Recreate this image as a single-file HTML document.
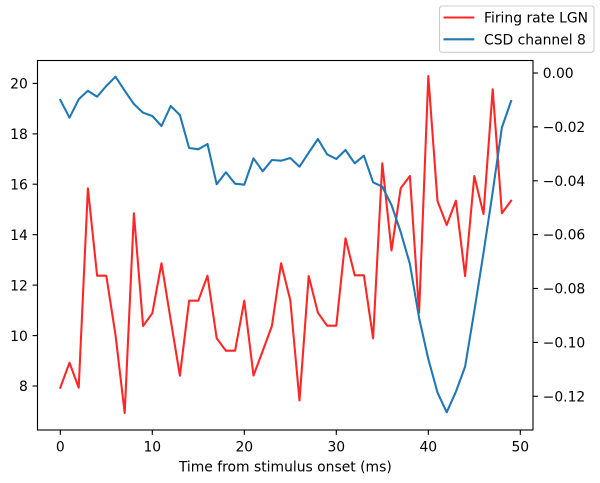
<!DOCTYPE html>
<html>
<head>
<meta charset="utf-8">
<style>
  html,body{margin:0;padding:0;background:#fff;}
  svg{display:block;}
  text{font-family:"DejaVu Sans","Liberation Sans",sans-serif;font-size:13.9px;fill:#000;}
</style>
</head>
<body>
<svg width="600" height="483" viewBox="0 0 600 483" xmlns="http://www.w3.org/2000/svg">
  <rect x="0" y="0" width="600" height="483" fill="#fff"/>

  <!-- Red series: Firing rate LGN -->
  <polyline fill="none" stroke="#ff0000" stroke-opacity="0.85" stroke-width="2.08" stroke-linejoin="round" stroke-linecap="square" points="
60.3,387.7 69.5,362.7 78.7,387.7 87.9,188.3 97.1,275.7 106.3,275.7 115.5,335 124.7,413 133.9,213.3 143.1,326
152.3,313.3 161.5,263.3 170.7,320 179.9,375.7 189.1,300.7 198.3,300.7 207.5,275.7 216.7,338.3 225.9,350.7 235.1,350.7
244.3,300.7 253.5,375.5 262.7,351 271.9,326 281.1,263.3 290.3,300.3 299.5,400.5 308.7,276 317.9,312.7 327.1,325.7
336.3,325.7 345.5,238.3 354.7,275.3 363.9,275.3 373.1,338.3 382.3,163.3 391.5,250.5 400.7,188.3 409.9,176 419.1,312.7
428.3,76 437.5,201 446.7,225 455.9,200.7 465.1,276 474.3,176 483.5,214 492.7,89.3 501.9,213.3 511.1,200.7"/>

  <!-- Blue series: CSD channel 8 -->
  <polyline fill="none" stroke="#1f77b4" stroke-width="2.08" stroke-linejoin="round" stroke-linecap="square" points="
60.3,100 69.5,117.7 78.7,99.3 87.9,90.7 97.1,96.7 106.3,86 115.5,76.7 124.7,90.7 133.9,104 143.1,112.7
152.3,116 161.5,126 170.7,106 179.9,115 189.1,148 198.3,149.3 207.5,144 216.7,184.3 225.9,172.3 235.1,183.7
244.3,184.7 253.5,158.3 262.7,171.3 271.9,160 281.1,160.7 290.3,158 299.5,166.7 308.7,152.7 317.9,139 327.1,154.3
336.3,159 345.5,150 354.7,163.3 363.9,155.7 373.1,182.3 382.3,186.7 391.5,205 400.7,232 409.9,264 419.1,318
428.3,359 437.5,392.5 446.7,412.3 455.9,391.7 465.1,366.7 474.3,311 483.5,253 492.7,192 501.9,127.5 511.1,101"/>

  <!-- Axes frame -->
  <rect x="37.5" y="60.5" width="495.5" height="369.5" fill="none" stroke="#000" stroke-width="1.11"/>

  <!-- X ticks -->
  <g stroke="#000" stroke-width="1.11">
    <line x1="60.3" y1="430" x2="60.3" y2="434.9"/>
    <line x1="152.3" y1="430" x2="152.3" y2="434.9"/>
    <line x1="244.3" y1="430" x2="244.3" y2="434.9"/>
    <line x1="336.3" y1="430" x2="336.3" y2="434.9"/>
    <line x1="428.3" y1="430" x2="428.3" y2="434.9"/>
    <line x1="520.3" y1="430" x2="520.3" y2="434.9"/>
  </g>
  <g text-anchor="middle">
    <text x="60.3" y="451.5">0</text>
    <text x="152.3" y="451.5">10</text>
    <text x="244.3" y="451.5">20</text>
    <text x="336.3" y="451.5">30</text>
    <text x="428.3" y="451.5">40</text>
    <text x="520.3" y="451.5">50</text>
  </g>
  <text x="285.3" y="471.5" text-anchor="middle">Time from stimulus onset (ms)</text>

  <!-- Left Y ticks -->
  <g stroke="#000" stroke-width="1.11">
    <line x1="32.6" y1="83.4" x2="37.5" y2="83.4"/>
    <line x1="32.6" y1="133.9" x2="37.5" y2="133.9"/>
    <line x1="32.6" y1="184.2" x2="37.5" y2="184.2"/>
    <line x1="32.6" y1="234.7" x2="37.5" y2="234.7"/>
    <line x1="32.6" y1="285.1" x2="37.5" y2="285.1"/>
    <line x1="32.6" y1="335.6" x2="37.5" y2="335.6"/>
    <line x1="32.6" y1="386" x2="37.5" y2="386"/>
  </g>
  <g text-anchor="end">
    <text x="27.8" y="88.6">20</text>
    <text x="27.8" y="139.1">18</text>
    <text x="27.8" y="189.4">16</text>
    <text x="27.8" y="239.9">14</text>
    <text x="27.8" y="290.3">12</text>
    <text x="27.8" y="340.8">10</text>
    <text x="27.8" y="391.2">8</text>
  </g>

  <!-- Right Y ticks -->
  <g stroke="#000" stroke-width="1.11">
    <line x1="533" y1="73" x2="537.9" y2="73"/>
    <line x1="533" y1="126.9" x2="537.9" y2="126.9"/>
    <line x1="533" y1="180.8" x2="537.9" y2="180.8"/>
    <line x1="533" y1="234.6" x2="537.9" y2="234.6"/>
    <line x1="533" y1="288.5" x2="537.9" y2="288.5"/>
    <line x1="533" y1="342.4" x2="537.9" y2="342.4"/>
    <line x1="533" y1="396.3" x2="537.9" y2="396.3"/>
  </g>
  <g text-anchor="start">
    <text x="542.7" y="78">0.00</text>
    <text x="542.7" y="131.9">−0.02</text>
    <text x="542.7" y="185.8">−0.04</text>
    <text x="542.7" y="239.6">−0.06</text>
    <text x="542.7" y="293.5">−0.08</text>
    <text x="542.7" y="347.4">−0.10</text>
    <text x="542.7" y="401.3">−0.12</text>
  </g>

  <!-- Legend -->
  <rect x="439.5" y="6" width="154.5" height="46.3" rx="2.8" ry="2.8" fill="#fff" fill-opacity="0.8" stroke="#cccccc" stroke-width="1.11"/>
  <line x1="443.5" y1="17.5" x2="474.3" y2="17.5" stroke="#ff0000" stroke-opacity="0.85" stroke-width="2.08"/>
  <text x="484" y="22.7">Firing rate LGN</text>
  <line x1="443.5" y1="39.3" x2="474.3" y2="39.3" stroke="#1f77b4" stroke-width="2.08"/>
  <text x="484" y="44.3">CSD channel 8</text>
</svg>
</body>
</html>
